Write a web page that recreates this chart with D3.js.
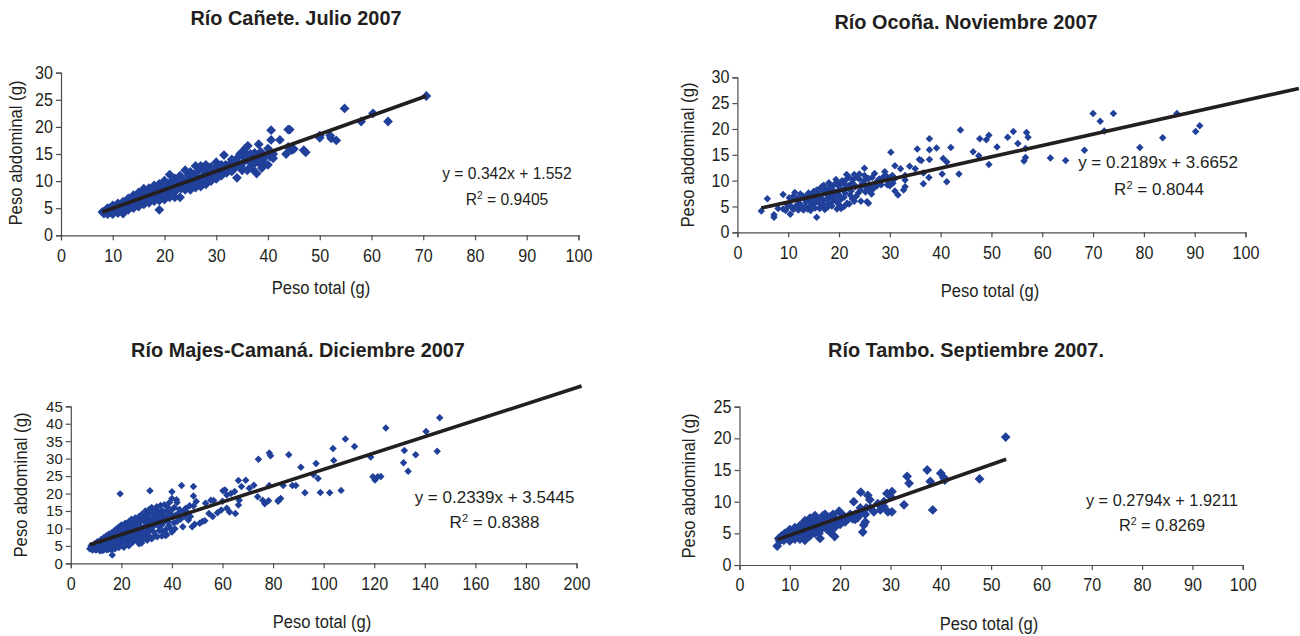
<!DOCTYPE html>
<html>
<head>
  <meta charset="utf-8">
  <style>
    body { margin: 0; background: #fff; }
    text { font-family: "Liberation Sans", Arial, sans-serif; fill: #231f20; }
    .title { font-size: 20.5px; font-weight: bold; }
    .axis-label { font-size: 18px; }
    .eq { font-size: 17px; }
    .tick text { font-size: 17.5px; }
    .axis path, .axis line { stroke: #4d4d4f; stroke-width: 1.2; }
  </style>
</head>
<body>
<div id="chart"></div>
<script src="https://d3js.org/d3.v7.min.js"></script>
<script>
// pairs are [peso total, peso abdominal]
const caneteData = [
  [8,4.3],[8.3,4],[8.6,4.6],[9,3.9],[9,5],[9.5,4.3],[10,3.9],[10,5.5],[10.4,4.7],[11,4.1],[11,5.9],[11.4,5],[12,4],[12,6.2],[12.4,5.2],
  [13,4.7],[13,6.8],[13.5,5.6],[14,5],[14,7.4],[14.5,6],[15,5.3],[15,7.9],[15.5,6.6],[16,5.7],[16,8.6],[16.5,7],[17,6],[17,8.7],[17.6,7.4],
  [18,6.3],[18,9.2],[18.6,7.8],[19,4.7],[19,6.4],[19,9.5],[19.6,8],[20,6.6],[20,10.1],[20.5,8.4],[21,7],[21,11.2],[21.5,9],[22,7],[22,10.5],
  [22.5,9.3],[23,7],[23,11],[23.5,9.6],[24,8.4],[24,12],[24.5,10],[25,8.4],[25,11.7],[25.5,10.3],[26,8.8],[26,12.8],[26.5,10.6],[27,9],
  [27,12.8],[27.5,11],[28,9.4],[28,13],[28.5,11.2],[29,10],[29,12.6],[29.5,11.6],[30,10.4],[30,13.5],[30.5,12],[31,11],[31,13],[31.5,14.8],
  [32,11.5],[32,12.4],[33,11.8],[33,14],[33.5,12.8],[34,10.6],[34,14.2],[34.5,13],[35,12],[35,15.3],[35.6,16],[36.1,16.5],[36,12],[36.4,13.6],
  [37,12.2],[37.2,14],[37.8,11.4],[37.8,14.8],[38.2,16.8],[38.5,13.2],[39,13.5],[40,13],[40,16],[40.4,14.5],[41,14.2],[40.6,17.6],[40.6,19.4],
  [42.3,17.6],[43.5,15],[43.9,19.5],[44.2,19.5],[43.9,16.3],[44.6,15.7],[45,15.9],[46.9,15.7],[47.3,15.3],[50,18],[50,18.4],[52,18.4],
  [52.2,17.9],[53.2,17.5],[54.8,23.4],[58,21],[60.3,22.5],[63.2,21],[70.6,25.7],
  [8.8,4.5],[9.4,5],[9.8,4.3],[10.6,5.2],[11.2,4.6],[11.7,5.6],[12.2,4.7],[12.8,5.9],[13.2,5.3],[13.8,6.3],[14.2,5.6],[14.7,6.9],[15.2,6],
  [15.8,7.2],[16.2,6.4],[16.8,7.8],[17.2,6.8],[17.8,8.2],[18.2,7],[18.4,8.6],[19.2,7.2],[19.4,8.8],[20.2,7.4],[20.6,9.4],[21.2,8],[21.4,10],
  [22.2,8.2],[22.6,10],[23.2,8.6],[23.4,10.4],[24.2,9.2],[24.6,11],[25.2,9.4],[25.6,11.2],[26.2,9.8],[26.4,11.8],[27.2,10],[27.6,12],[28.2,10.4],
  [28.4,12.2],[29.2,11],[29.6,12.2],[30.2,11.2],[30.6,12.8],[31.2,11.8],[31.8,13],[32.4,12.4],[32.8,13.4],[33.4,12.2],[34.2,13.2],[35.2,13.4],
  [35.4,14.4],[36.2,14.4],[37,13.2],[37.6,13.4],[38.4,14],[39,14.6],[39.6,14.6],[40.6,15],[41,15],[34.6,15],[33.2,13],[36.6,15],[22.4,8.9],[25.8,9],[28.8,10.6],
  [34.8,12.6],[36.8,12.8],[38.8,12.4],[39.4,13.2],[35.8,15],[37.4,15.2],[38.6,15.4]
];
const ocoñaData = [
  [4.7,4.1],[5.9,6.5],[7.2,2.9],[7.2,3.4],[8,4.6],[9,7.3],[9,4.5],[9.5,4.2],[10,5],[10.2,6.7],[10.4,3.5],[10.5,6],[11,4.4],[11,7],[11.3,7.7],
  [11.6,5.2],[12,4.3],[12,6.2],[12.4,7.4],[12.6,5],[13,4.3],[13,7],[13.5,5.8],[13.8,4.5],[14,7.6],[14,6.4],[14.4,4.2],[14.6,5.4],[15,7.9],
  [15,6.7],[15.3,4.7],[15.6,2.9],[15.6,8.2],[16,5.7],[16,7.3],[16.5,5],[16.6,8.8],[17,6.2],[17,9.1],[17.2,4.4],[17.4,7.5],[17.8,5.5],[18,9.6],
  [18,8.2],[18.4,6.6],[18.6,5.1],[19,9.2],[19,7.3],[19.4,10.2],[19.4,6],[19.6,4.5],[20,8.8],[20,7.2],[20.4,4.6],[20.6,10],[21,9.4],[21,5],
  [21.2,7.6],[21.5,11.2],[21.6,8.6],[22,5.5],[22,10.6],[22.5,9.5],[22.6,6.5],[23,11.2],[23.2,8.8],[23.4,7],[24,10.3],[24,11.3],[24.2,8.2],
  [24.3,6],[24.6,9.4],[25,12.4],[25,11],[25.2,7.8],[25.5,5.9],[25.8,5.6],[26,9.2],[26,8],[26.5,10.6],[26.8,8.5],[27,11.4],[27.5,9],[28,10.3],
  [28.3,9.2],[29,11.7],[29.2,11],[29.5,9.2],[30,10.5],[30,9],[30.2,15.5],[30.5,11],[31,12.9],[31,8],[31.6,7.2],[32.1,12.3],[32.7,8.2],[33,8.8],
  [33,10.1],[33,11],[33.9,12.8],[35,12.3],[35.4,16.1],[35.8,14.1],[36.2,13.9],[36.6,11.5],[36.6,9.4],[37.7,10.6],[37.8,14.1],[37.8,16],[37.8,18.1],
  [39.2,16.3],[40.3,11.3],[40.5,14.3],[41.2,13.6],[41.2,9.8],[42,16.4],[43.6,11.3],[43.9,19.8],[46.4,15.6],[47.5,14.8],[47.7,18.1],[49,17.9],
  [49.5,18.8],[49.5,13.1],[51.1,16.5],[53.2,18.4],[54.3,19.5],[55.2,17.2],[56.4,13.8],[56.7,14.5],[56.7,16.2],[56.9,19.3],[57.2,18.4],[61.6,14.4],
  [64.6,13.9],[68.3,15.9],[70,23],[71.4,21.5],[72.2,19.6],[74,23],[79.2,16.4],[83.7,18.3],[86.5,23],[90.2,19.5],[91,20.6],
  [9.8,5.4],[10.6,5],[10.8,6.5],[11.4,4.7],[11.8,6.6],[12.2,5.6],[12.8,6.8],[13.2,5],[13.4,6.4],[13.8,7.2],[14.2,5],[14.4,5.9],[14.8,7.2],[15.2,5.6],
  [15.4,7.5],[15.8,6.2],[16.2,4.6],[16.2,8.4],[16.4,6.8],[16.8,5.4],[17,7.8],[17.3,8.4],[17.6,6.4],[17.8,4.9],[18.2,8.9],[18.2,7],[18.6,5.9],[18.8,8.2],
  [19.2,6.6],[19.6,9.6],[19.7,7.8],[20,5.4],[20.2,9.3],[20.4,6.4],[20.8,8.2],[21,6.8],[21.4,10.2],[21.6,5.6],[21.8,9],[22.2,7.2],[22.4,8],[22.8,10.2],
  [23,6],[23,9.2],[23.6,10.6],[23.8,7.6],[24.4,9],[25,10],[25.4,8.6],[25.8,10.4],[26.2,8.8],[26.4,7.4],[27.2,9.6],[27.8,10.2],[28.6,10.6],[29.6,10],[30.6,9.5],[31,10.4]
];
const majesData = [
  [7.5,4.2],[8,5],[8.5,3.8],[9,4.8],[9.5,5.6],[10,3.8],[10,4.6],[10.5,6.2],[11,5],[11.5,3.6],[12,6.8],[12,4.4],[12.5,5.6],[13,7.3],[13,3.8],[13.5,6.2],
  [14,4.6],[14,7.8],[14.5,5.4],[15,8.3],[15,4],[15.5,6.7],[16,8.7],[16.4,2.4],[16.4,4.4],[16.6,5.6],[17,9.2],[17,7.3],[17.5,4.2],[18,9.8],[18,6.4],[18.5,8],
  [19,4.5],[19,10.4],[19.5,19.9],[19.5,7],[20,5.4],[20,11],[20.5,9],[21,4.6],[21,7.8],[21.5,11.5],[22,6.2],[22,10],[22.5,8.6],[23,5],[23,12],[23.5,7],
  [24,9.6],[24,12.6],[24.5,6],[25,11],[25,8],[25.5,13],[26,6.6],[26,9.8],[26.5,12],[27,13.4],[27,7.6],[27.5,10.6],[28,5.8],[28,14],[28.5,8.8],[29,12.4],
  [29.5,7],[29.5,15],[30,10],[30,14],[30.5,8],[31,12],[31,15.4],[31.3,20.8],[31.5,9.5],[32,7],[32,16],[32.5,13],[33,10.8],[33,15],[33.5,8],[34,16.2],
  [34.5,12],[35,9.4],[35,14],[35.5,16.6],[36,7.8],[36,11],[36.5,13.5],[37,16.8],[37.5,9.6],[38,15],[38,8.2],[38.5,12],[39,17.4],[39.5,10],[40,9],[40,18.6],
  [40,20.5],[40.5,13.5],[41,16],[41.2,9.9],[42,12],[42,17.4],[43,15.4],[43.8,22.3],[44.3,10.5],[45,13.5],[45.5,15.8],[46.5,12.4],[47,16.5],[47.3,13.4],
  [48,10.5],[48.5,16.4],[48.5,19.3],[48.5,22],[49.6,17.7],[49,11.2],[51,11.5],[52,12],[53,12.2],[53.3,17.2],[54.6,14.3],[55.4,18.1],[56.1,13.4],[56.5,18],
  [58,14.5],[59.5,15.3],[60,17.8],[60.2,20.8],[61,21],[61.7,15.8],[61.7,19.6],[62.8,14.7],[63.3,20],[64.8,20.6],[65.1,14.3],[66.3,16.7],[66.3,23.7],[66.6,18.1],
  [67.5,22],[69.2,23.8],[70.6,21.5],[72.4,22.4],[73.9,19.1],[74.2,29.8],[75.9,18.1],[76.7,17.1],[78.2,17.9],[78.5,22.3],[78.5,31.6],[79,30.8],[82,17.8],[82.1,18.1],
  [83,18.6],[84,22.3],[86.2,31.1],[87.6,22.3],[89,22.3],[91,27.5],[92.6,20.2],[96,25.4],[97,28.6],[97.8,24.3],[98.7,20.3],[102.4,20.2],[103.7,32.9],[104,29.5],
  [106.9,20.9],[108.6,35.6],[112.2,33.5],[118.6,30.5],[119.5,24.8],[120.3,23.9],[121.4,24.8],[122.6,24.9],[124.6,38.8],[131.6,28.8],[131.9,32.3],[133.4,26.4],
  [136.4,31.1],[140.5,37.8],[144.9,32.1],[145.9,41.7],
  [9.2,4],[10.6,4.2],[11,5.6],[11.6,4.3],[12.4,3.7],[12.6,6.4],[13.4,4.8],[13.6,7],[14.2,3.9],[14.8,6.2],[15.2,4.8],[15.4,7.7],[16,6.2],[16.2,3.8],[16.6,8],
  [17,5],[17.4,6.6],[17.8,8.8],[18.2,5],[18.6,7.2],[18.8,9.4],[19.4,5.8],[19.6,8.6],[20,10.2],[20.4,6.6],[20.8,4.9],[20.8,9.8],[21.2,7],[21.4,8.6],[21.8,5.4],
  [22.2,10.8],[22.4,7.4],[22.8,9],[23.2,5.8],[23.4,11],[23.8,8.2],[24.2,6.8],[24.4,10.4],[24.8,7.4],[25.2,12],[25.4,9],[25.8,7],[26.2,10.8],[26.2,12.8],[26.6,8.6],
  [27,5.6],[27.2,11.6],[27.6,9.2],[27.8,6.6],[28.2,12.8],[28.4,7.6],[28.8,10.2],[29.2,13.6],[29.4,8.4],[29.8,11.4],[30.2,6.6],[30.4,12.8],[30.8,9.2],[31.2,14.2],
  [31.6,7.4],[32,10.4],[32.2,12.6],[32.8,9],[33,14],[33.4,11.8],[33.8,13],[34.2,7.6],[34.4,15],[34.8,10.6],[35.4,12.6],[35.8,15.2],[36.2,9.2],[36.6,14.8],[37,12],
  [37.4,8],[37.8,13.4],[38.4,16],[38.8,10.8],[39.2,14.4],[40.4,15.6],[40.8,11.6],[41.4,13.8],[41.8,18.2],[42.6,14.4],[43.4,12.6],[44.6,15],[46,14.6]
];
const tamboData = [
  [7.5,3],[7.8,4.2],[8,3.8],[8.4,4.6],[8.8,3.9],[9,5],[9.4,4.3],[10,3.8],[10,5.6],[10.4,4.6],[11,4.1],[11,5.9],[11.5,5],[12,4.1],[12,6.2],[12.5,5.3],
  [13,3.9],[13,7],[13.3,4.4],[13.5,5.8],[14,4.6],[14,7.4],[14.5,6.2],[15,5],[15,7.8],[15.5,6.5],[16,4.2],[16,5.5],[16.6,7.8],[16.8,6.4],[17,8],[17.5,5.6],
  [18,5.2],[18,7.6],[18.6,8],[18.9,4.5],[19,6],[19.3,7],[19.8,8.5],[20,6.4],[20.6,7.6],[21,6.8],[21.8,7.5],[22.5,7.3],[22.7,10],[23,8],[23.5,7.5],[24,9],
  [24.1,11.5],[24.5,5.2],[24.7,6.3],[25,6.8],[25,8],[25.5,11],[25.9,10.3],[26.7,8.4],[27.5,9.7],[28,8.7],[28.7,9.2],[28.7,10],[29.3,11.3],[29.5,8.4],
  [30,10.8],[30.3,11.6],[30.3,8.4],[32.7,9.5],[33.3,14],[33.7,12.9],[37.3,15],[37.9,13.2],[38.4,8.7],[40,14.5],[40.6,13.8],[40.8,13.4],[47.7,13.6],[52.9,20.2],
  [9.6,5],[10.8,5.2],[11.2,4.6],[11.8,5.7],[12.2,4.7],[12.8,6.4],[13.2,5],[13.8,6.7],[14.2,5.4],[14.6,7.2],[15.2,5.8],[15.4,7.2],[15.8,5],[16.2,7],[16.4,6],[16.8,7.2],
  [17.2,5.8],[17.4,7],[17.8,6.2],[18.2,6.8],[18.4,5.6],[19,7.4],[19.4,6.4],[20.2,7.2],[20.4,8],[21.2,7.4],[22,8],[23,7.2],[24.2,8.2],[25.2,9],[26,9]
];

// trend lines, end points as drawn
const caneteLine = [[8,4.3],[70.6,25.7]];
const ocoñaLine = [[4.7,4.7],[110.5,27.85]];
const majesLine = [[7.5,5.3],[202,50.8]];
const tamboLine = [[7.5,4],[53,16.7]];

const xTicks100 = [0,10,20,30,40,50,60,70,80,90,100];
const xTicks200 = [0,20,40,60,80,100,120,140,160,180,200];
const yTicksCanete = [0,5,10,15,20,25,30];
const yTicksOcoña = [0,5,10,15,20,25,30];
const yTicksMajes = [0,5,10,15,20,25,30,35,40,45];
const yTicksTambo = [0,5,10,15,20,25];

const panels = [
  { title: "Río Cañete. Julio 2007", eq: "y = 0.342x + 1.552", r2: "0.9405", data: caneteData, line: caneteLine,
    xTicks: xTicks100, yTicks: yTicksCanete, yFont: 17.5, eqK: 0.92,
    x0: 61, x1: 578.5, y0: 235.3, y1: 72.7, mark: 48,
    titleX: 296, titleY: 25, xLabelX: 321, xLabelY: 294, yLabelX: 22, yLabelY: 153, eqX: 507, eqY: 179, r2X: 507, r2Y: 205 },
  { title: "Río Ocoña. Noviembre 2007", eq: "y = 0.2189x + 3.6652", r2: "0.8044", data: ocoñaData, line: ocoñaLine,
    xTicks: xTicks100, yTicks: yTicksOcoña, yFont: 17.5, eqK: 1,
    x0: 737.4, x1: 1245.5, y0: 232.3, y1: 77.3, mark: 28,
    titleX: 966, titleY: 29, xLabelX: 990, xLabelY: 297, yLabelX: 694, yLabelY: 155, eqX: 1158, eqY: 168, r2X: 1159, r2Y: 195 },
  { title: "Río Majes-Camaná. Diciembre 2007", eq: "y = 0.2339x + 3.5445", r2: "0.8388", data: majesData, line: majesLine,
    xTicks: xTicks200, yTicks: yTicksMajes, yFont: 15, eqK: 1,
    x0: 70.8, x1: 576.5, y0: 563.3, y1: 406.3, mark: 28,
    titleX: 298, titleY: 357, xLabelX: 322, xLabelY: 628, yLabelX: 27, yLabelY: 485, eqX: 494.5, eqY: 503, r2X: 494.5, r2Y: 528 },
  { title: "Río Tambo. Septiembre 2007.", eq: "y = 0.2794x + 1.9211", r2: "0.8269", data: tamboData, line: tamboLine,
    xTicks: xTicks100, yTicks: yTicksTambo, yFont: 17.5, eqK: 0.96,
    x0: 739.5, x1: 1242.7, y0: 565, y1: 406.7, mark: 48,
    titleX: 966, titleY: 357, xLabelX: 989, xLabelY: 630, yLabelX: 695, yLabelY: 486, eqX: 1162, eqY: 506, r2X: 1162, r2Y: 531 }
];

const svg = d3.select("#chart").append("svg")
  .attr("width", 1300)
  .attr("height", 636);

// the original type is a bit narrower than Liberation Sans
function squeeze(sel, k) {
  sel.each(function() {
    this.setAttribute("textLength", this.getComputedTextLength() * k);
    this.setAttribute("lengthAdjust", "spacingAndGlyphs");
  });
}

panels.forEach(p => {
  const xMax = p.xTicks[p.xTicks.length - 1];
  const yMax = p.yTicks[p.yTicks.length - 1];
  const x = d3.scaleLinear().domain([0, xMax]).range([p.x0, p.x1]);
  const y = d3.scaleLinear().domain([0, yMax]).range([p.y0, p.y1]);
  const g = svg.append("g");

  const xAxis = g.append("g")
    .attr("class", "axis")
    .attr("transform", "translate(0," + p.y0 + ")")
    .call(d3.axisBottom(x).tickValues(p.xTicks).tickSize(5).tickSizeOuter(5).tickPadding(9));
  xAxis.select(".domain").attr("fill", "none");
  squeeze(xAxis.selectAll("text"), 0.92);

  const yAxis = g.append("g")
    .attr("class", "axis")
    .attr("transform", "translate(" + p.x0 + ",0)")
    .call(d3.axisLeft(y).tickValues(p.yTicks).tickSize(5).tickSizeOuter(5).tickPadding(3));
  yAxis.select(".domain").attr("fill", "none");
  yAxis.selectAll("text").style("font-size", p.yFont + "px");
  squeeze(yAxis.selectAll("text"), p.yFont < 16 ? 1 : 0.92);

  const symbol = d3.symbol().type(d3.symbolSquare).size(p.mark);
  g.append("g").selectAll("path")
    .data(p.data)
    .enter()
    .append("path")
    .attr("d", symbol)
    .attr("transform", d => "translate(" + x(d[0]) + "," + y(d[1]) + ") rotate(45)")
    .attr("fill", "#20409a");

  const line = d3.line().x(d => x(d[0])).y(d => y(d[1]));
  g.append("path")
    .attr("d", line(p.line))
    .attr("fill", "none")
    .attr("stroke", "#231f20")
    .attr("stroke-width", 3.6);

  g.append("text").attr("class", "title")
    .attr("x", p.titleX).attr("y", p.titleY)
    .attr("text-anchor", "middle")
    .text(p.title)
    .call(squeeze, 0.97);

  g.append("text").attr("class", "axis-label")
    .attr("x", p.xLabelX).attr("y", p.xLabelY)
    .attr("text-anchor", "middle")
    .text("Peso total (g)")
    .call(squeeze, 0.92);

  g.append("text").attr("class", "axis-label")
    .attr("transform", "translate(" + p.yLabelX + "," + p.yLabelY + ") rotate(-90)")
    .attr("text-anchor", "middle")
    .text("Peso abdominal (g)")
    .call(squeeze, 0.93);

  g.append("text").attr("class", "eq")
    .attr("x", p.eqX).attr("y", p.eqY)
    .attr("text-anchor", "middle")
    .text(p.eq)
    .call(squeeze, p.eqK);

  const r2 = g.append("text").attr("class", "eq")
    .attr("x", p.r2X).attr("y", p.r2Y)
    .attr("text-anchor", "middle");
  r2.append("tspan").text("R");
  r2.append("tspan").attr("dy", -6).style("font-size", "11px").text("2");
  r2.append("tspan").attr("dy", 6).text(" = " + p.r2);
  r2.call(squeeze, p.eqK);
});
</script>
</body>
</html>
